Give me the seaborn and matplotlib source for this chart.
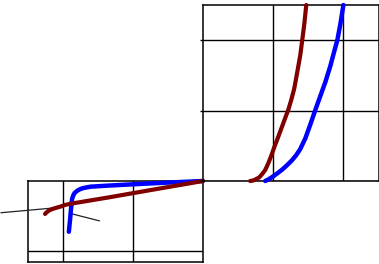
import matplotlib
matplotlib.use("Agg")
import matplotlib.pyplot as plt
import seaborn as sns

# Bottom-left panel data
red_low_x = [-0.25, -0.23, -0.20, -0.16, -0.10, -0.03, 0.04, 0.14, 0.68, 1.25, 2.0]
red_low_y = [0.53, 0.55, 0.575, 0.595, 0.615, 0.635, 0.66, 0.68, 0.77, 0.87, 1.0]
blue_low_x = [0.089, 0.106, 0.121, 0.135, 0.149, 0.170, 0.213, 0.255, 0.298, 0.397, 0.681, 1.007, 1.532, 2.0]
blue_low_y = [0.276, 0.443, 0.614, 0.743, 0.786, 0.829, 0.864, 0.886, 0.90, 0.919, 0.936, 0.953, 0.979, 1.0]

# Top-right panel data
red_high_x = [0.671, 0.714, 0.757, 0.80, 0.843, 0.886, 0.929, 0.971, 1.014, 1.071, 1.129,
              1.171, 1.214, 1.257, 1.30, 1.343, 1.386, 1.414, 1.443, 1.471]
red_high_y = [0.0, 0.007, 0.028, 0.050, 0.099, 0.156, 0.249, 0.355, 0.476, 0.625, 0.781,
              0.895, 1.009, 1.151, 1.314, 1.548, 1.790, 2.003, 2.230, 2.5]
blue_high_x = [0.886, 0.929, 0.986, 1.057, 1.129, 1.20, 1.271, 1.329, 1.386, 1.457, 1.529,
               1.60, 1.671, 1.743, 1.814, 1.871, 1.914, 1.957, 2.0]
blue_high_y = [0.0, 0.021, 0.057, 0.107, 0.163, 0.227, 0.298, 0.369, 0.455, 0.604, 0.803,
               1.009, 1.207, 1.406, 1.634, 1.847, 2.003, 2.230, 2.5]

# Leader lines (bottom panel coords)
lead_a_x = [-0.879, 0.0]
lead_a_y = [0.547, 0.627]
lead_b_x = [0.142, 0.525]
lead_b_y = [0.529, 0.431]

sns.set_style("white")
plt.rcParams["font.family"] = ["DejaVu Sans"]

fig = plt.figure(figsize=(3.79, 2.64), dpi=100)
ax_lo = fig.add_axes([27.5 / 379, (264 - 262.3) / 264, (203 - 27.5) / 379, (262.3 - 181) / 264])
ax_hi = fig.add_axes([203 / 379, (264 - 181) / 264, (378.5 - 203) / 379, (181 - 5) / 264])

RED = "#800000"
BLUE = "#0000ff"

for ax in (ax_lo, ax_hi):
    ax.set_facecolor("none")
    for s in ax.spines.values():
        s.set_visible(True)
        s.set_color("black")
        s.set_linewidth(1.1)
    ax.grid(True, color="black", linewidth=1.0)
    ax.set_axisbelow(True)

ax_lo.set_xlim(-0.5, 2.0)
ax_lo.set_ylim(-0.16, 1.0)
ax_lo.set_xticks([0, 1])
ax_lo.set_yticks([0])
ax_lo.tick_params(length=0, labelleft=False, labelbottom=False)

ax_hi.set_xlim(0, 2.5)
ax_hi.set_ylim(0, 2.5)
ax_hi.set_xticks([1, 2])
ax_hi.set_yticks([0, 1, 2])
ax_hi.tick_params(axis="y", left=True, length=2.5, width=1.0, color="black", labelleft=False)
ax_hi.tick_params(axis="x", length=0, labelbottom=False)

sns.lineplot(x=lead_a_x, y=lead_a_y, ax=ax_lo, color="#222222", linewidth=0.9, sort=False, estimator=None)
sns.lineplot(x=lead_b_x, y=lead_b_y, ax=ax_lo, color="#222222", linewidth=0.9, sort=False, estimator=None)
sns.lineplot(x=blue_low_x, y=blue_low_y, ax=ax_lo, color=BLUE, linewidth=3.2, sort=False, estimator=None)
sns.lineplot(x=red_low_x, y=red_low_y, ax=ax_lo, color=RED, linewidth=3.0, sort=False, estimator=None)

sns.lineplot(x=red_high_x, y=red_high_y, ax=ax_hi, color=RED, linewidth=3.0, sort=False, estimator=None)
sns.lineplot(x=blue_high_x, y=blue_high_y, ax=ax_hi, color=BLUE, linewidth=3.2, sort=False, estimator=None)

for ax in (ax_lo, ax_hi):
    for ln in ax.lines:
        ln.set_clip_on(False)
        ln.set_solid_capstyle("round")
        ln.set_solid_joinstyle("round")
        ln.set_zorder(5)
    ax.set_xlabel("")
    ax.set_ylabel("")

fig.savefig("out.png", dpi=100)
